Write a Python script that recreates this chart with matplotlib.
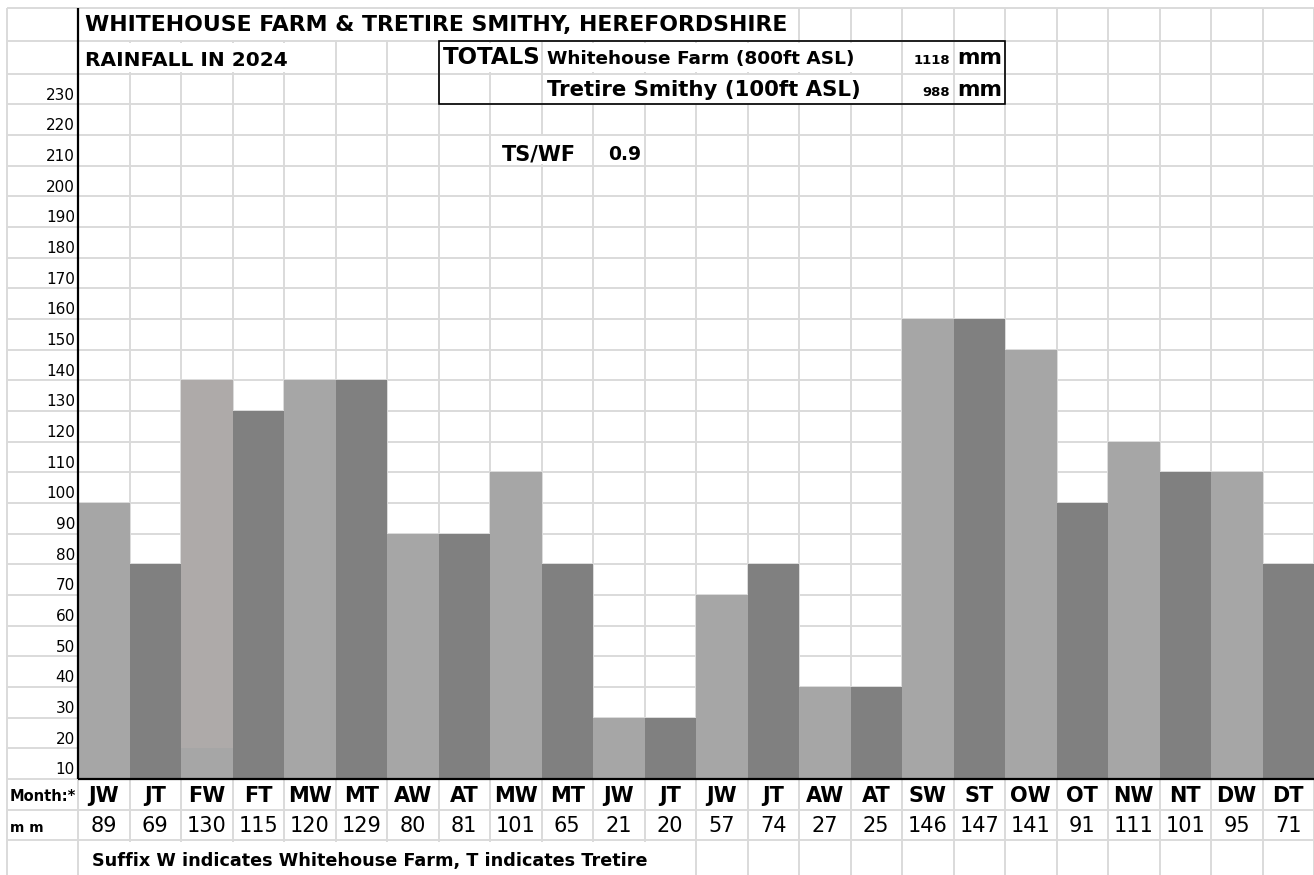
import matplotlib
matplotlib.use('Agg')
import matplotlib.pyplot as plt
from matplotlib.patches import Rectangle

# rainfall data, 2024 (W = Whitehouse Farm, T = Tretire Smithy)
months = ['JW', 'JT', 'FW', 'FT', 'MW', 'MT', 'AW', 'AT', 'MW', 'MT', 'JW', 'JT',
          'JW', 'JT', 'AW', 'AT', 'SW', 'ST', 'OW', 'OT', 'NW', 'NT', 'DW', 'DT']
rain_mm = [89, 69, 130, 115, 120, 129, 80, 81, 101, 65, 21, 20,
           57, 74, 27, 25, 146, 147, 141, 91, 111, 101, 95, 71]
# bar heights as drawn (cells filled to nearest row)
bar_heights = [90, 70, 130, 120, 130, 130, 80, 80, 100, 70, 20, 20,
               60, 70, 30, 30, 150, 150, 140, 90, 110, 100, 100, 70]
y_labels = list(range(230, 0, -10))
wf_total = 1118
ts_total = 988
ratio = 0.9

plt.rcParams['font.family'] = ['DejaVu Sans']

GRID = '#dadada'
LIGHT = '#a6a6a6'
DARK = '#808080'
WARM = '#aeaaa9'

# spreadsheet geometry (pixels) -> data units
COL_PX, ROW_PX, X0, Y0 = 51.5, 30.67, 78, 779
W_PX, H_PX = 1314, 875

fig = plt.figure(figsize=(W_PX / 100, H_PX / 100), dpi=100)
ax = fig.add_axes([0, 0, 1, 1])
ax.set_xlim(-X0 / COL_PX, (W_PX - X0) / COL_PX)
ax.set_ylim(-(H_PX - Y0) / ROW_PX * 10, Y0 / ROW_PX * 10)
ax.axis('off')

left = (7 - X0) / COL_PX
top = 251.5
row_lines = [-20, -10, 0] + list(range(10, 240, 10)) + [240.5, top]
col_lines = [left] + list(range(0, 25))
ax.hlines(row_lines, left, 24, color=GRID, lw=1.4, zorder=1)
ax.vlines(col_lines, -40, top, color=GRID, lw=1.4, zorder=1)


def mask(c0, c1, r0, r1):
    # hide gridlines where text overflows cells
    ax.add_patch(Rectangle((c0 + 0.03, r0 + 0.5), c1 - c0 - 0.06, r1 - r0 - 1.0,
                           fc='white', ec='none', zorder=2))


mask(0, 14, 240.5, top)
mask(0, 5, 230, 240.5)
mask(7, 9, 230, 240.5)
mask(9, 16, 230, 240.5)
mask(9, 16, 220, 230)
mask(8, 10, 200, 210)
mask(0, 12, -40, -20)

x = [i + 0.5 for i in range(len(months))]
colors = [LIGHT if m.endswith('W') else DARK for m in months]
ax.bar(x, bar_heights, width=1.0, color=colors, linewidth=0, zorder=3)
# February Whitehouse cells shaded differently above the first row
fw = 2
ax.bar(x[fw], bar_heights[fw] - 10, bottom=10, width=1.0, color=WARM, linewidth=0, zorder=3)

ax.vlines(0, 0, top, color='black', lw=1.6, zorder=4)
ax.hlines(0, 0, 24, color='black', lw=1.6, zorder=4)
ax.add_patch(Rectangle((7, 220), 11, 20.5, fill=False, ec='black', lw=1.2, zorder=4))

for v in y_labels:
    ax.text(-0.06, v - 8.5, str(v), ha='right', va='baseline', fontsize=11, zorder=5)

for xi, m, v in zip(x, months, rain_mm):
    ax.text(xi, -7.4, m, ha='center', va='baseline', fontsize=15, fontweight='bold', zorder=5)
    ax.text(xi, -17.3, str(v), ha='center', va='baseline', fontsize=15, zorder=5)

ax.text(left + 0.06, -7.2, 'Month:*', ha='left', va='baseline', fontsize=10.5, fontweight='bold')
ax.text(left + 0.06, -17.4, 'm m', ha='left', va='baseline', fontsize=10, fontweight='bold')
ax.text(0.27, -28.5, 'Suffix W indicates Whitehouse Farm, T indicates Tretire',
        ha='left', va='baseline', fontsize=12.7, fontweight='bold', zorder=5)

ax.text(0.136, 243.9, 'WHITEHOUSE FARM & TRETIRE SMITHY, HEREFORDSHIRE',
        ha='left', va='baseline', fontsize=15.8, fontweight='bold', zorder=5)
ax.text(0.136, 232.6, 'RAINFALL IN 2024', ha='left', va='baseline',
        fontsize=14.5, fontweight='bold', zorder=5)

ax.text(7.09, 233, 'TOTALS', ha='left', va='baseline', fontsize=16.5, fontweight='bold', zorder=5)
ax.text(9.11, 233, 'Whitehouse Farm (800ft ASL)', ha='left', va='baseline',
        fontsize=13.3, fontweight='bold', zorder=5)
ax.text(16.93, 233, str(wf_total), ha='right', va='baseline', fontsize=9.5, fontweight='bold', zorder=5)
ax.text(17.07, 233, 'mm', ha='left', va='baseline', fontsize=15.5, fontweight='bold', zorder=5)
ax.text(9.11, 222.7, 'Tretire Smithy (100ft ASL)', ha='left', va='baseline',
        fontsize=15.3, fontweight='bold', zorder=5)
ax.text(16.93, 222.7, str(ts_total), ha='right', va='baseline', fontsize=9.5, fontweight='bold', zorder=5)
ax.text(17.07, 222.7, 'mm', ha='left', va='baseline', fontsize=15.5, fontweight='bold', zorder=5)

ax.text(8.23, 201.8, 'TS/WF', ha='left', va='baseline', fontsize=15, fontweight='bold', zorder=5)
ax.text(10.29, 201.8, f'{ratio:.1f}', ha='left', va='baseline', fontsize=13.5, fontweight='bold', zorder=5)

fig.savefig('out.png', dpi=100)
